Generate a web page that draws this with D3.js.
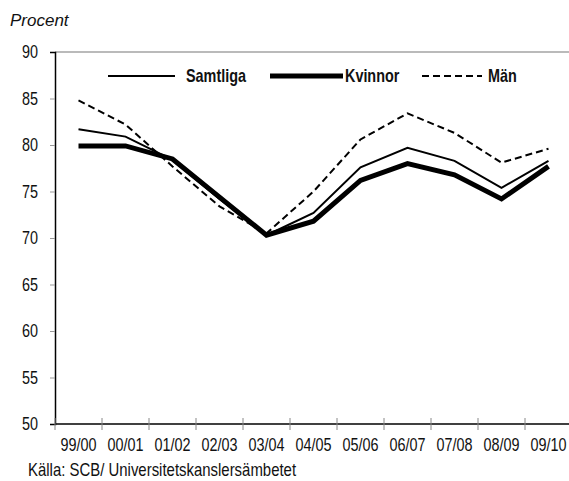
<!DOCTYPE html>
<html>
<head>
<meta charset="utf-8">
<script src="https://cdn.jsdelivr.net/npm/d3@7"></script>
<style>
  body { margin: 0; background: #fff; }
  text { font-family: "Liberation Sans", Arial, sans-serif; fill: #111; }
</style>
</head>
<body>
<div id="chart"></div>
<script>
// läsår
var years = ["99/00", "00/01", "01/02", "02/03", "03/04", "04/05", "05/06", "06/07", "07/08", "08/09", "09/10"];
var samtliga = [81.7, 80.9, 78.4, 74.2, 70.3, 72.7, 77.6, 79.7, 78.3, 75.4, 78.3];
var kvinnor  = [79.9, 79.9, 78.5, 74.4, 70.3, 71.8, 76.2, 78.0, 76.8, 74.2, 77.7];
var man      = [84.8, 82.2, 77.7, 73.4, 70.5, 75.0, 80.6, 83.4, 81.3, 78.1, 79.6];
var yTicks = [50, 55, 60, 65, 70, 75, 80, 85, 90];

var series = [
  { name: "Samtliga", values: samtliga, width: 2, dash: null },
  { name: "Kvinnor", values: kvinnor, width: 5, dash: null },
  { name: "Män", values: man, width: 2, dash: "7,4" }
];

var width = 569, height = 481,
    margin = { top: 52, right: -3, bottom: 57, left: 55 };

// no narrow font installed, so squeeze the text horizontally
function condense(k) {
  return function(sel) {
    sel.each(function() {
      var t = d3.select(this);
      var x0 = +t.attr("x") || 0;
      t.attr("x", x0 / k).attr("transform", "scale(" + k + ",1)");
    });
  };
}

var svg = d3.select("#chart").append("svg")
  .attr("width", width)
  .attr("height", height);

var x = d3.scaleBand()
  .domain(years)
  .range([margin.left, width - margin.right]);

var y = d3.scaleLinear()
  .domain([50, 90])
  .range([height - margin.bottom, margin.top]);

// top gray border
svg.append("line")
  .attr("x1", margin.left).attr("x2", width)
  .attr("y1", y(90)).attr("y2", y(90))
  .style("stroke", "#777").style("stroke-width", 1.2);

// y axis
var yAxis = svg.append("g")
  .attr("transform", "translate(" + margin.left + ",0)")
  .call(d3.axisLeft(y).tickValues(yTicks).tickSize(5).tickPadding(12));
yAxis.select(".domain").style("stroke", "#000").style("stroke-width", 1.5);
yAxis.selectAll(".tick line").style("stroke", "#999");
yAxis.selectAll(".tick line").filter(function(d){ return d == 50 || d == 90; }).remove();
yAxis.selectAll("text").style("font-size", "18px").attr("fill", "#111").call(condense(0.8));

// x axis
var xAxis = svg.append("g")
  .attr("transform", "translate(0," + y(50) + ")")
  .call(d3.axisBottom(x).tickSize(0).tickPadding(14));
xAxis.select(".domain").attr("d", "M" + margin.left + ",0H" + width)
  .style("stroke", "#000").style("stroke-width", 1.5);
xAxis.selectAll("text").style("font-size", "18px").attr("fill", "#111").call(condense(0.8));
svg.append("g").selectAll("line")
  .data(years)
  .enter().append("line")
  .attr("x1", function(d){ return x(d); })
  .attr("x2", function(d){ return x(d); })
  .attr("y1", y(50) - 6).attr("y2", y(50) + 6)
  .style("stroke", "#888");

var line = d3.line()
  .x(function(d, i){ return x(years[i]) + x.bandwidth() / 2; })
  .y(function(d){ return y(d); });

svg.selectAll(".series")
  .data(series)
  .enter().append("path")
  .attr("d", function(d){ return line(d.values); })
  .style("fill", "none")
  .style("stroke", "#000")
  .style("stroke-width", function(d){ return d.width; })
  .style("stroke-dasharray", function(d){ return d.dash; })
  .style("stroke-linejoin", "miter");

// legend
var legendPos = [{ x1: 108, x2: 175, tx: 186 }, { x1: 270, x2: 343, tx: 345 }, { x1: 422, x2: 482, tx: 488 }];
var legend = svg.selectAll(".legend")
  .data(series)
  .enter().append("g");
legend.append("line")
  .attr("x1", function(d, i){ return legendPos[i].x1; })
  .attr("x2", function(d, i){ return legendPos[i].x2; })
  .attr("y1", 76).attr("y2", 76)
  .style("stroke", "#000")
  .style("stroke-width", function(d){ return d.width; })
  .style("stroke-dasharray", function(d){ return d.dash; });
legend.append("text")
  .attr("x", function(d, i){ return legendPos[i].tx; })
  .attr("y", 76)
  .attr("dy", "0.35em")
  .style("font-size", "18px")
  .style("font-weight", "bold")
  .text(function(d){ return d.name; })
  .call(condense(0.8));

svg.append("text")
  .attr("x", 10).attr("y", 26)
  .style("font-style", "italic")
  .style("font-size", "17px")
  .text("Procent");

svg.append("text")
  .attr("x", 28).attr("y", 476)
  .style("font-size", "18px")
  .text("Källa: SCB/ Universitetskanslersämbetet")
  .call(condense(0.83));
</script>
</body>
</html>
